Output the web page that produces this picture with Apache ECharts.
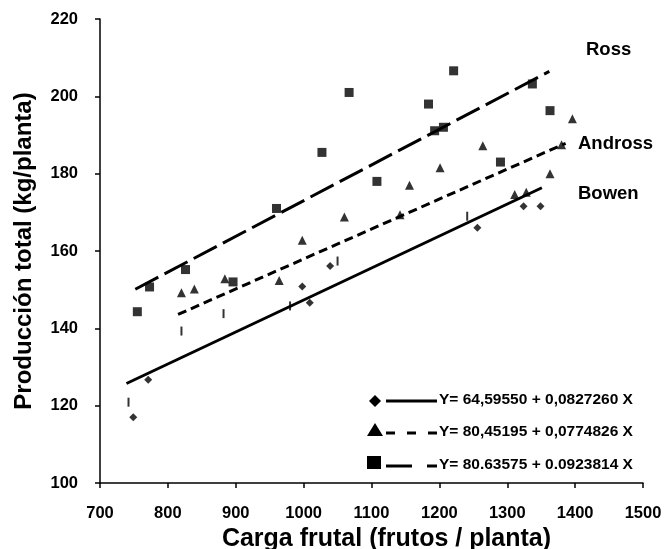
<!DOCTYPE html>
<html>
<head>
<meta charset="utf-8">
<script src="https://cdn.jsdelivr.net/npm/echarts@6/dist/echarts.min.js"></script>
<style>
  html, body { margin: 0; padding: 0; background: #fff; }
  #chart { width: 664px; height: 549px; }
</style>
</head>
<body>
<div id="chart"></div>
<script>
// observed points, per variety
const bowenX = [749, 771, 998, 1009, 1039, 1256, 1324, 1349];
const bowenY = [117.0, 126.7, 150.8, 146.6, 156.1, 166.0, 171.6, 171.6];
const androssX = [820, 839, 884, 964, 998, 1060, 1142, 1156, 1201, 1264, 1311, 1328, 1363, 1380, 1396];
const androssY = [149.2, 150.2, 152.8, 152.4, 162.8, 168.8, 169.4, 177.0, 181.5, 187.2, 174.6, 175.2, 180.0, 187.5, 194.2];
const rossX = [755, 773, 826, 896, 960, 1027, 1067, 1108, 1184, 1193, 1206, 1221, 1290, 1337, 1363];
const rossY = [144.3, 150.7, 155.2, 152.0, 171.0, 185.5, 201.0, 178.0, 198.0, 191.1, 192.0, 206.6, 183.0, 203.2, 196.3];
// small stray tick marks in the plot
const tickX = [742, 820, 882, 980, 1050, 1241];
const tickY = [120.9, 139.3, 143.8, 145.8, 157.4, 169.0];

// fitted lines: Y = a + b X
const varieties = ['Bowen', 'Andross', 'Ross'];
const intercepts = [64.59550, 80.45195, 80.63575];
const slopes = [0.0827260, 0.0774826, 0.0923814];
const fitStart = [739, 815, 752];
const fitEnd = [1351, 1386, 1362];
const equations = ['Y= 64,59550 + 0,0827260 X', 'Y= 80,45195 + 0,0774826 X', 'Y= 80.63575 + 0.0923814 X'];

const xTicks = [700, 1500, 100];
const yTicks = [100, 220, 20];

const font = 'Liberation Sans, Arial, sans-serif';
const pointX = [bowenX, androssX, rossX];
const pointY = [bowenY, androssY, rossY];
const symbols = ['diamond', 'triangle', 'rect'];
const symbolSizes = [8, 9, 9];
const dashes = ['solid', [9, 5], [26, 7]];

const chart = echarts.init(document.getElementById('chart'));

const series = [];
varieties.forEach(function (name, i) {
  series.push({
    name: name + ' fit',
    type: 'line',
    data: [fitStart[i], fitEnd[i]].map(function (x) { return [x, intercepts[i] + slopes[i] * x]; }),
    symbol: 'none',
    silent: true,
    lineStyle: { color: '#000', width: 3, type: dashes[i] },
    z: 2
  });
  series.push({
    name: name,
    type: 'scatter',
    data: pointX[i].map(function (x, j) { return [x, pointY[i][j]]; }),
    symbol: symbols[i],
    symbolSize: symbolSizes[i],
    itemStyle: { color: '#000' },
    z: 3
  });
});
series.push({
  name: 'marks',
  type: 'scatter',
  data: tickX.map(function (x, j) { return [x, tickY[j]]; }),
  symbol: 'rect',
  symbolSize: [2, 9],
  itemStyle: { color: '#000' },
  z: 3
});

// legend rows drawn by hand: marker, line sample, equation
const legendRowsY = [401, 433, 466];
const legendGraphics = [];
legendRowsY.forEach(function (y, i) {
  if (i === 0) {
    legendGraphics.push({ type: 'polygon', shape: { points: [[375, y - 6], [381, y], [375, y + 6], [369, y]] }, style: { fill: '#000' } });
  } else if (i === 1) {
    legendGraphics.push({ type: 'polygon', shape: { points: [[375, y - 10], [383, y + 3], [367, y + 3]] }, style: { fill: '#000' } });
  } else {
    legendGraphics.push({ type: 'rect', shape: { x: 367, y: y - 10, width: 14, height: 13 }, style: { fill: '#000' } });
  }
  legendGraphics.push({
    type: 'line',
    shape: { x1: 386, y1: y, x2: 437, y2: y },
    style: { stroke: '#000', lineWidth: 3, lineDash: i === 0 ? null : (i === 1 ? [9, 12] : [26, 15]) }
  });
  legendGraphics.push({
    type: 'text', left: 439, top: y - 9,
    style: { text: equations[i], font: 'bold 15.5px ' + font, fill: '#000' }
  });
});

const nameLabels = [['Ross', 586, 40], ['Andross', 578, 134], ['Bowen', 578, 184]];
nameLabels.forEach(function (n) {
  legendGraphics.push({
    type: 'text', left: n[1], top: n[2],
    style: { text: n[0], font: 'bold 18.5px ' + font, fill: '#000' }
  });
});

function plain(v) { return String(v); }

chart.setOption({
  animation: false,
  backgroundColor: '#fff',
  textStyle: { fontFamily: font },
  grid: { left: 100, top: 19, width: 543, height: 464, outerBoundsMode: 'none', containLabel: false },
  xAxis: {
    type: 'value',
    min: xTicks[0], max: xTicks[1], interval: xTicks[2],
    name: 'Carga frutal (frutos / planta)',
    nameLocation: 'middle',
    nameGap: 38,
    nameTextStyle: { fontSize: 25, fontWeight: 'bold', color: '#000', fontFamily: font, padding: [0, 0, 0, 30] },
    axisLine: { onZero: false, lineStyle: { color: '#000', width: 1.5 } },
    axisTick: { show: true, length: 5, lineStyle: { color: '#000', width: 1.5 } },
    axisLabel: { margin: 22, fontSize: 16.5, fontWeight: 'bold', color: '#000', fontFamily: font, formatter: plain },
    splitLine: { show: false }
  },
  yAxis: {
    type: 'value',
    min: yTicks[0], max: yTicks[1], interval: yTicks[2],
    name: 'Producción total (kg/planta)',
    nameLocation: 'middle',
    nameGap: 64,
    nameTextStyle: { fontSize: 24, fontWeight: 'bold', color: '#000', fontFamily: font },
    axisLine: { show: true, onZero: false, lineStyle: { color: '#000', width: 1.5 } },
    axisTick: { show: true, length: 5, lineStyle: { color: '#000', width: 1.5 } },
    axisLabel: { margin: 22, fontSize: 16.5, fontWeight: 'bold', color: '#000', fontFamily: font, formatter: plain },
    splitLine: { show: false }
  },
  graphic: legendGraphics,
  series: series
});
</script>
</body>
</html>
